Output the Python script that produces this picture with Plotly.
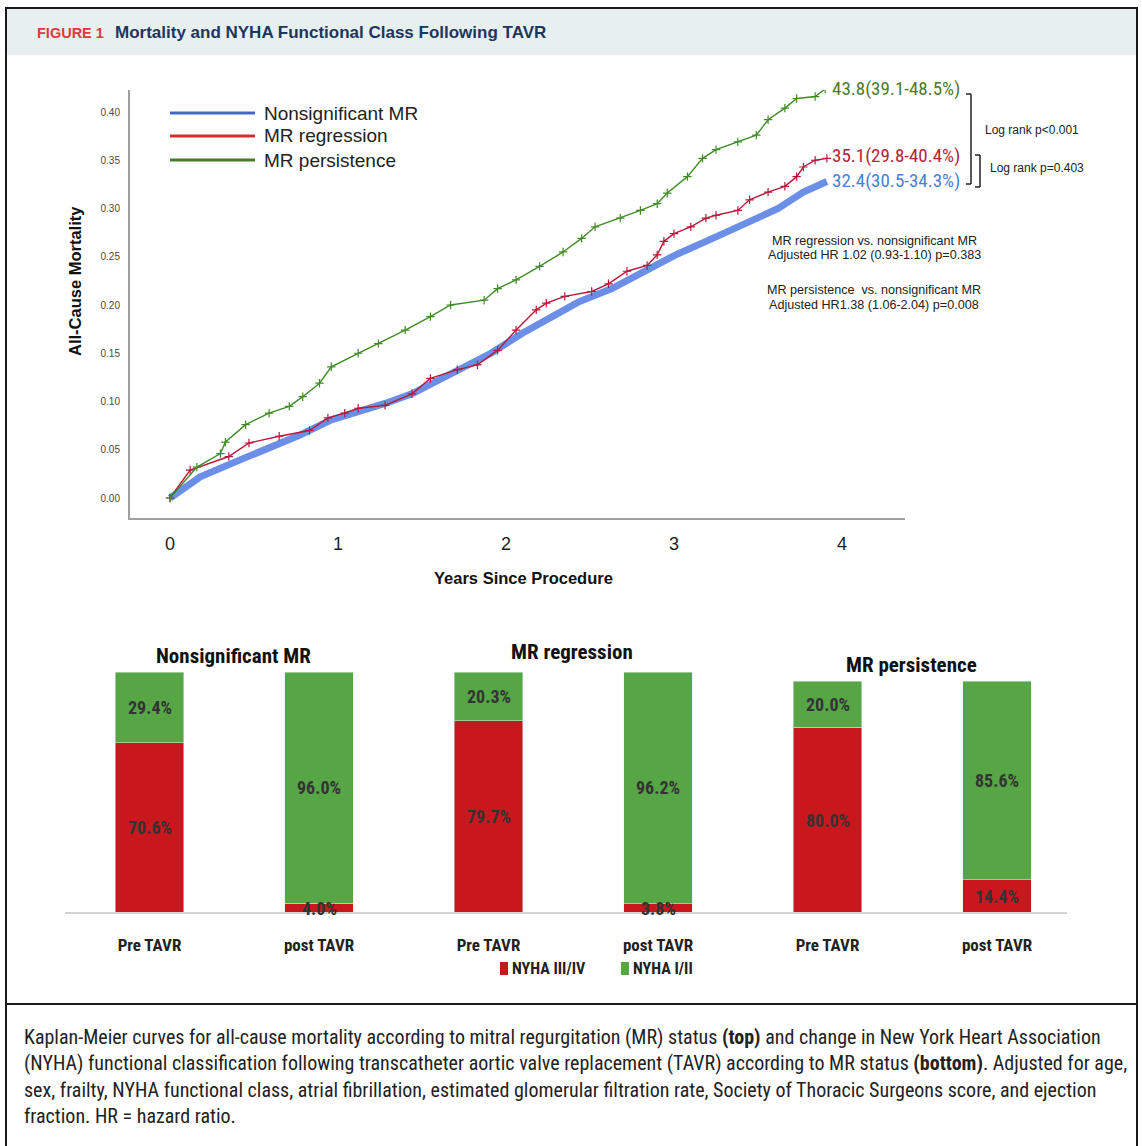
import plotly.graph_objects as go

W, H = 1142, 1146


def px(x):
    return x / W


def py(y):
    return 1 - y / H


# ---- Kaplan-Meier cumulative all-cause mortality --------------------------
years_nonsig = [0, 0.18, 0.41, 0.61, 0.77, 0.96, 1.12, 1.28, 1.44, 1.59, 1.75, 1.91,
                2.10, 2.30, 2.43, 2.63, 2.82, 3.01, 3.23, 3.45, 3.62, 3.77, 3.91]
mort_nonsig = [0, 0.022, 0.039, 0.053, 0.065, 0.081, 0.089, 0.098, 0.108, 0.122, 0.136, 0.150,
               0.171, 0.190, 0.203, 0.217, 0.235, 0.252, 0.269, 0.286, 0.300, 0.317, 0.328]

years_regr = [0, 0.12, 0.35, 0.47, 0.65, 0.83, 0.94, 1.04, 1.12, 1.28, 1.44, 1.55, 1.71, 1.83,
              1.95, 2.06, 2.18, 2.24, 2.35, 2.51, 2.61, 2.72, 2.84, 2.90, 2.94, 3.00, 3.10,
              3.19, 3.25, 3.38, 3.45, 3.56, 3.66, 3.73, 3.77, 3.84, 3.91]
mort_regr = [0, 0.029, 0.043, 0.057, 0.064, 0.070, 0.083, 0.088, 0.093, 0.096, 0.108, 0.124,
             0.133, 0.138, 0.153, 0.174, 0.195, 0.202, 0.209, 0.214, 0.222, 0.235, 0.241,
             0.252, 0.266, 0.274, 0.281, 0.290, 0.293, 0.298, 0.309, 0.317, 0.323, 0.333,
             0.343, 0.350, 0.352]

years_pers = [0, 0.16, 0.30, 0.33, 0.45, 0.59, 0.71, 0.79, 0.89, 0.96, 1.12, 1.24, 1.40, 1.55,
              1.67, 1.87, 1.95, 2.06, 2.20, 2.34, 2.45, 2.53, 2.68, 2.80, 2.90, 2.96, 3.08,
              3.17, 3.25, 3.38, 3.49, 3.56, 3.66, 3.73, 3.84, 3.90]
mort_pers = [0, 0.032, 0.046, 0.058, 0.076, 0.088, 0.095, 0.105, 0.119, 0.136, 0.150, 0.160,
             0.174, 0.188, 0.200, 0.205, 0.217, 0.226, 0.240, 0.255, 0.269, 0.281, 0.290,
             0.298, 0.305, 0.316, 0.333, 0.352, 0.361, 0.369, 0.376, 0.392, 0.404, 0.414,
             0.416, 0.424]

series_names = ["Nonsignificant MR", "MR regression", "MR persistence"]
end_labels = ["32.4(30.5-34.3%)", "35.1(29.8-40.4%)", "43.8(39.1-48.5%)"]
year_ticks = [0, 1, 2, 3, 4]
mort_ticks = [0.00, 0.05, 0.10, 0.15, 0.20, 0.25, 0.30, 0.35, 0.40]

# ---- NYHA functional class before / after TAVR ---------------------------
groups = ["Nonsignificant MR", "MR regression", "MR persistence"]
timepoints = ["Pre TAVR", "post TAVR"]
nyha_3_4 = [[70.6, 4.0], [79.7, 3.8], [80.0, 14.4]]
nyha_1_2 = [[29.4, 96.0], [20.3, 96.2], [20.0, 85.6]]

# ---- styling --------------------------------------------------------------
SANS = "Liberation Sans, Arial, sans-serif"
NARROW = "Liberation Sans Narrow, Arial Narrow, Roboto Condensed, sans-serif"
CURVE_COLORS = ["#6b8fe6", "#b8183c", "#3f8c26"]
LEGEND_COLORS = ["#4466c8", "#d43030", "#4a7a2a"]
LABEL_COLORS = ["#4a7fd6", "#b3243a", "#4f7a2e"]
RED, GREEN = "#c9181d", "#56a646"

fig = go.Figure()

# Kaplan-Meier curves
curve_data = [(years_nonsig, mort_nonsig), (years_regr, mort_regr), (years_pers, mort_pers)]
for i, (xs, ys) in enumerate(curve_data):
    if i == 0:
        fig.add_trace(go.Scatter(x=xs, y=ys, mode="lines", name=series_names[i],
                                 line=dict(color=CURVE_COLORS[i], width=7),
                                 xaxis="x", yaxis="y"))
    else:
        fig.add_trace(go.Scatter(x=xs, y=ys, mode="lines+markers", name=series_names[i],
                                 line=dict(color=CURVE_COLORS[i], width=1.4),
                                 marker=dict(symbol="cross-thin", size=6,
                                             line=dict(color=CURVE_COLORS[i], width=1.2)),
                                 xaxis="x", yaxis="y"))

# stacked NYHA bars, one subplot per MR group
bar_axes = ["2", "3", "4"]
for g, ax in enumerate(bar_axes):
    fig.add_trace(go.Bar(x=timepoints, y=nyha_3_4[g], name="NYHA III/IV", marker_color=RED,
                         xaxis="x" + ax, yaxis="y" + ax))
    fig.add_trace(go.Bar(x=timepoints, y=nyha_1_2[g], name="NYHA I/II", marker_color=GREEN,
                         xaxis="x" + ax, yaxis="y" + ax))

annotations = []
shapes = []


def note(x, y, text, font, xanchor="left", **kw):
    annotations.append(dict(x=px(x), y=py(y), xref="paper", yref="paper", text=text,
                            showarrow=False, xanchor=xanchor, yanchor="middle",
                            font=font, **kw))


# value labels centred in each bar segment
for g, ax in enumerate(bar_axes):
    for j, tp in enumerate(timepoints):
        lo = nyha_3_4[g][j]
        hi = nyha_1_2[g][j]
        for val, mid in ((lo, lo / 2), (hi, lo + hi / 2)):
            annotations.append(dict(x=tp, y=mid, xref="x" + ax, yref="y" + ax,
                                    text="<b>%.1f%%</b>" % val, showarrow=False,
                                    xanchor="center", yanchor="middle",
                                    font=dict(family=NARROW, size=18, color="#333333")))

# group titles above bars
for text, cx, cy in zip(groups, [233, 572, 912], [656, 652, 665]):
    note(cx, cy, "<b>%s</b>" % text, dict(family=NARROW, size=21, color="#111111"),
         xanchor="center")

# bar legend
for label, color, sx in (("NYHA III/IV", RED, 500), ("NYHA I/II", GREEN, 621)):
    shapes.append(dict(type="rect", xref="paper", yref="paper",
                       x0=px(sx), x1=px(sx + 8), y0=py(975), y1=py(962),
                       fillcolor=color, line=dict(width=0)))
    note(sx + 10, 968, "<b>%s</b>" % label, dict(family=NARROW, size=16, color="#222222"))

# baseline under the bars
shapes.append(dict(type="line", xref="paper", yref="paper", x0=px(65), x1=px(1067),
                   y0=py(913), y1=py(913), line=dict(color="#d2d2d2", width=2)))

# curve legend
for i, ly in enumerate([113, 136, 160]):
    shapes.append(dict(type="line", xref="paper", yref="paper", x0=px(170), x1=px(255),
                       y0=py(ly), y1=py(ly), line=dict(color=LEGEND_COLORS[i], width=3)))
    note(262, ly, series_names[i], dict(family=SANS, size=19, color="#222222"))

# end-of-follow-up estimates
for i, ly in enumerate([181, 155, 88]):
    note(830, ly, end_labels[i], dict(family=NARROW, size=19, color=LABEL_COLORS[i]))

# log-rank brackets
for bx, top, bot in ((971, 94, 184), (980, 155, 187)):
    for seg in ((bx, top, bx, bot), (bx - 5, top, bx, top), (bx - 5, bot, bx, bot)):
        shapes.append(dict(type="line", xref="paper", yref="paper",
                           x0=px(seg[0]), y0=py(seg[1]), x1=px(seg[2]), y1=py(seg[3]),
                           line=dict(color="#222222", width=1.5)))
for text, tx, ty in (("Log rank p<0.001", 983, 130), ("Log rank p=0.403", 988, 168)):
    note(tx, ty, text, dict(family=SANS, size=12, color="#222222"))

# adjusted hazard ratios
for text, ty in (("MR regression vs. nonsignificant MR", 241),
                 ("Adjusted HR 1.02 (0.93-1.10) p=0.383", 255),
                 ("MR persistence  vs. nonsignificant MR", 290),
                 ("Adjusted HR1.38 (1.06-2.04) p=0.008", 305)):
    note(874, ty, text, dict(family=SANS, size=12.6, color="#222222"), xanchor="center")

# axis titles
note(75, 281, "<b>All-Cause Mortality</b>", dict(family=SANS, size=16.5, color="#111111"),
     xanchor="center", textangle=-90)
note(523, 578, "<b>Years Since Procedure</b>", dict(family=SANS, size=16.5, color="#111111"),
     xanchor="center")

# figure header
shapes.append(dict(type="rect", xref="paper", yref="paper", x0=px(6), x1=px(1137),
                   y0=py(55), y1=py(8), fillcolor="#e8f0ef", line=dict(width=0), layer="below"))
note(35, 33, "<b>FIGURE 1</b>", dict(family=SANS, size=14.5, color="#e2383c"))
note(113, 33, "<b>Mortality and NYHA Functional Class Following TAVR</b>",
     dict(family=SANS, size=17, color="#1c3660"))

# frame
shapes.append(dict(type="rect", xref="paper", yref="paper", x0=px(6), x1=px(1137),
                   y0=py(1160), y1=py(8), line=dict(color="#1a1a1a", width=2)))
shapes.append(dict(type="line", xref="paper", yref="paper", x0=px(6), x1=px(1137),
                   y0=py(1004), y1=py(1004), line=dict(color="#1a1a1a", width=2)))

# caption
caption_lines = [
    "Kaplan-Meier curves for all-cause mortality according to mitral regurgitation (MR) status "
    "<b>(top)</b> and change in New York Heart Association",
    "(NYHA) functional classification following transcatheter aortic valve replacement (TAVR) "
    "according to MR status <b>(bottom)</b>. Adjusted for age,",
    "sex, frailty, NYHA functional class, atrial fibrillation, estimated glomerular filtration "
    "rate, Society of Thoracic Surgeons score, and ejection",
    "fraction. HR = hazard ratio.",
]
for k, line in enumerate(caption_lines):
    note(22, 1037 + 26.4 * k, line, dict(family=NARROW, size=20, color="#222222"))

# axes
x_px0, x_scale = 170, 168.0  # pixel of year 0, pixels per year
layout_axes = dict(
    xaxis=dict(domain=[px(130), px(905)], anchor="y",
               range=[(130 - x_px0) / x_scale, (905 - x_px0) / x_scale],
               tickvals=year_ticks, ticktext=[str(t) for t in year_ticks],
               showline=True, linecolor="#a0a0a0", linewidth=2, ticks="",
               showgrid=False, zeroline=False, ticklabelstandoff=8,
               tickfont=dict(family=SANS, size=18, color="#222222")),
    yaxis=dict(domain=[py(518), py(90)], anchor="x", range=[-0.0207, 0.4228],
               tickvals=mort_ticks, ticktext=["%.2f" % v for v in mort_ticks],
               showline=True, linecolor="#a0a0a0", linewidth=2, ticks="",
               showgrid=False, zeroline=False, ticklabelstandoff=6,
               tickfont=dict(family=SANS, size=10, color="#4a4a4a")),
)
bar_xdomains = [(64.75, 403.75), (403.75, 742.75), (742.75, 1081.75)]
bar_tops = [672, 672, 681]
for g, ax in enumerate(bar_axes):
    x0, x1 = bar_xdomains[g]
    layout_axes["xaxis" + ax] = dict(domain=[px(x0), px(x1)], anchor="y" + ax,
                                     type="category", showline=False, ticks="",
                                     showgrid=False, zeroline=False, ticklabelstandoff=20,
                                     tickvals=timepoints,
                                     ticktext=["<b>%s</b>" % t for t in timepoints],
                                     tickfont=dict(family=NARROW, size=17, color="#222222"))
    layout_axes["yaxis" + ax] = dict(domain=[py(913), py(bar_tops[g])], anchor="x" + ax,
                                     range=[0, 100], visible=False)

fig.update_layout(
    width=W, height=H, margin=dict(l=0, r=0, t=0, b=0),
    paper_bgcolor="white", plot_bgcolor="white", showlegend=False,
    barmode="stack", bargap=0.593,
    annotations=annotations, shapes=shapes,
    **layout_axes,
)

fig.write_html("out.html")
